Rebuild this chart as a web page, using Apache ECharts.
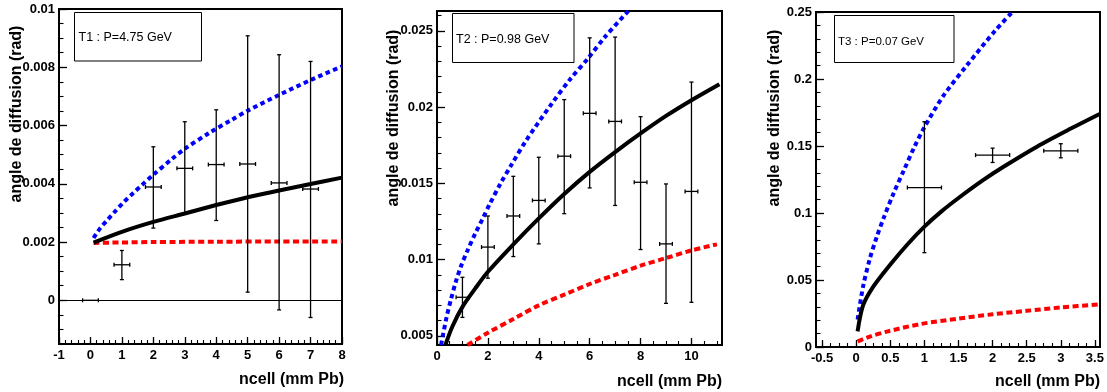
<!DOCTYPE html>
<html><head><meta charset="utf-8">
<script src="https://cdn.jsdelivr.net/npm/echarts@6/dist/echarts.min.js"></script>
<style>html,body{margin:0;padding:0;background:#fff}#c{width:1107px;height:392px}</style>
</head><body><div id="c"></div>
<script>
// ---------------- DATA ----------------
const yTitle = 'angle de diffusion (rad)';
const xTitle = 'ncell (mm Pb)';
const panelLabels = ['T1 : P=4.75 GeV', 'T2 : P=0.98 GeV', 'T3 : P=0.07 GeV'];

// Panel T1 measurements
const t1X = [0, 1, 2, 3, 4, 5, 6, 7];
const t1XErr = [0.25, 0.25, 0.25, 0.25, 0.25, 0.25, 0.25, 0.25];
const t1Y = [0, 0.00122, 0.00389, 0.00453, 0.00466, 0.00468, 0.00403, 0.00382];
const t1YLow = [0, 0.00071, 0.00248, 0.00298, 0.00274, 0.00028, -0.00033, -0.00059];
const t1YHigh = [0, 0.00171, 0.00527, 0.00613, 0.00654, 0.00908, 0.00843, 0.0082];
// Panel T1 curves
const t1BlackX = [0.1, 1, 2, 3, 4, 5, 6, 7, 8];
const t1BlackY = [0.00198, 0.00235, 0.00269, 0.00298, 0.00327, 0.00354, 0.00377, 0.00399, 0.00421];
const t1BlueX = [0.1, 0.3, 0.55, 0.8, 1.05, 1.35, 1.65, 2, 2.6, 3, 3.8, 4.5, 5, 6, 7, 8];
const t1BlueY = [0.00214, 0.00246, 0.00277, 0.00307, 0.00336, 0.00367, 0.00397, 0.00431, 0.00486, 0.0052, 0.00576, 0.0062, 0.00651, 0.00705, 0.00756, 0.00803];
const t1RedX = [0.1, 2, 4, 6, 8];
const t1RedY = [0.00197, 0.002, 0.00201, 0.00202, 0.00202];

// Panel T2 measurements
const t2X = [1, 2, 3, 4, 5, 6, 7, 8, 9, 10];
const t2XErr = [0.25, 0.25, 0.25, 0.25, 0.25, 0.25, 0.25, 0.25, 0.25, 0.25];
const t2Y = [0.00753, 0.01082, 0.01286, 0.01388, 0.01678, 0.01959, 0.01906, 0.01507, 0.01103, 0.01447];
const t2YLow = [0.00621, 0.00878, 0.0102, 0.01103, 0.01301, 0.0147, 0.01355, 0.01066, 0.00713, 0.0072];
const t2YHigh = [0.00884, 0.01286, 0.01546, 0.01671, 0.02049, 0.02454, 0.02459, 0.01937, 0.01496, 0.02164];
// Panel T2 curves
const t2BlackX = [0.33, 0.6, 1, 1.5, 2, 3, 4, 5, 6, 7, 8, 9, 10, 11.1];
const t2BlackY = [0.0044, 0.0056, 0.0069, 0.0081, 0.0092, 0.011, 0.0127, 0.0143, 0.01575, 0.01705, 0.01827, 0.01942, 0.02045, 0.0215];
const t2BlueX = [0.16, 0.36, 0.55, 0.75, 0.95, 1.2, 1.5, 1.8, 2.06, 2.5, 2.92, 3.5, 4.5, 5.22, 5.94, 6.6, 7.52];
const t2BlueY = [0.0044, 0.0061, 0.0074, 0.0086, 0.0096, 0.0106, 0.0117, 0.0127, 0.0136, 0.015, 0.0162, 0.0178, 0.0202, 0.0218, 0.0232, 0.0246, 0.0263];
const t2RedX = [1.2, 2, 3, 4, 5, 6, 7, 8, 9, 10, 11];
const t2RedY = [0.0044, 0.0052, 0.0061, 0.007, 0.0077, 0.0084, 0.009, 0.0096, 0.0101, 0.0106, 0.011];

// Panel T3 measurements
const t3X = [1, 2, 3];
const t3XErr = [0.25, 0.25, 0.25];
const t3Y = [0.119, 0.1432, 0.1464];
const t3YLow = [0.0704, 0.1377, 0.1412];
const t3YHigh = [0.1681, 0.1484, 0.1517];
// Panel T3 curves
const t3BlackX = [0.02, 0.1, 0.25, 0.5, 0.75, 1, 1.25, 1.5, 1.86, 2.16, 2.65, 3.14, 3.57];
const t3BlackY = [0.0117, 0.031, 0.045, 0.0615, 0.0765, 0.0898, 0.1012, 0.1112, 0.1245, 0.1345, 0.1495, 0.1628, 0.1739];
const t3BlueX = [0.02, 0.1, 0.2, 0.3, 0.4, 0.55, 0.7, 0.85, 1.0, 1.28, 1.62, 2.04, 2.29];
const t3BlueY = [0.0204, 0.045, 0.066, 0.082, 0.096, 0.115, 0.132, 0.149, 0.164, 0.1876, 0.21, 0.2362, 0.25];
const t3RedX = [0.02, 0.2, 0.45, 0.95, 1.5, 2, 2.5, 3, 3.57];
const t3RedY = [0.0042, 0.0078, 0.0115, 0.0172, 0.0212, 0.0244, 0.027, 0.0295, 0.0318];

// Axis ranges and tick values
const t1XRange = [-1, 8], t1YRange = [-0.0015, 0.01];
const t2XRange = [0, 11.2], t2YRange = [0.0044, 0.0263];
const t3XRange = [-0.59, 3.575], t3YRange = [0, 0.25];
const t1XMajor = [-1, 0, 1, 2, 3, 4, 5, 6, 7, 8];
const t1YMajor = [0, 0.002, 0.004, 0.006, 0.008, 0.01];
const t2XMajor = [0, 2, 4, 6, 8, 10];
const t2YMajor = [0.005, 0.01, 0.015, 0.02, 0.025];
const t3XMajor = [-0.5, 0, 0.5, 1, 1.5, 2, 2.5, 3, 3.5];
const t3YMajor = [0, 0.05, 0.1, 0.15, 0.2, 0.25];
const t1XMinorStep = 0.2, t1YMinorStep = 0.0005;
const t2XMinorStep = 0.5, t2YMinorStep = 0.001;
const t3XMinorStep = 0.125, t3YMinorStep = 0.01;

// ---------------- CHART ----------------
const FONT = '"Liberation Sans", Arial, Helvetica, sans-serif';
const zip = (a, b) => a.map((v, i) => [v, b[i]]);
function minorTicks(range, step) {
  const out = [];
  const s = Math.ceil(range[0] / step - 1e-9);
  const e = Math.floor(range[1] / step + 1e-9);
  for (let k = s; k <= e; k++) out.push(+(k * step).toPrecision(10));
  return out;
}
const fmt = v => String(parseFloat(Number(v).toPrecision(6)));

const grids = [
  { left: 59, top: 9, width: 283, height: 335 },
  { left: 437, top: 11, width: 285, height: 334 },
  { left: 816, top: 12, width: 284, height: 335 }
].map(g => Object.assign(g, { show: true, borderColor: '#000', borderWidth: 2, backgroundColor: 'transparent' }));

function axisPair(dim, gi, range, major, minorStep) {
  const isX = dim === 'x';
  const main = {
    type: 'value', gridIndex: gi, min: range[0], max: range[1],
    position: isX ? 'bottom' : 'left',
    axisLine: { show: true, onZero: false, lineStyle: { color: '#000', width: 2 } },
    axisTick: { show: true, inside: true, length: isX ? 7 : 8, customValues: major, lineStyle: { color: '#000', width: 1.3 } },
    axisLabel: { show: true, customValues: major, margin: isX ? 5 : 4, color: '#000', fontFamily: FONT, fontWeight: 'bold', fontSize: 13, formatter: fmt, hideOverlap: false },
    splitLine: { show: false }
  };
  const minor = {
    type: 'value', gridIndex: gi, min: range[0], max: range[1],
    position: isX ? 'bottom' : 'left', offset: 0,
    axisLine: { show: false, onZero: false },
    axisTick: { show: true, inside: true, length: isX ? 4 : 4.5, customValues: minorTicks(range, minorStep), lineStyle: { color: '#000', width: 1.1 } },
    axisLabel: { show: false },
    splitLine: { show: false }
  };
  return [main, minor];
}

const xAxes = [
  ...axisPair('x', 0, t1XRange, t1XMajor, t1XMinorStep),
  ...axisPair('x', 1, t2XRange, t2XMajor, t2XMinorStep),
  ...axisPair('x', 2, t3XRange, t3XMajor, t3XMinorStep)
];
const yAxes = [
  ...axisPair('y', 0, t1YRange, t1YMajor, t1YMinorStep),
  ...axisPair('y', 1, t2YRange, t2YMajor, t2YMinorStep),
  ...axisPair('y', 2, t3YRange, t3YMajor, t3YMinorStep)
];

function renderErr(params, api) {
  const x = api.value(0), y = api.value(1);
  const pL = api.coord([api.value(2), y]), pR = api.coord([api.value(3), y]);
  const pB = api.coord([x, api.value(4)]), pT = api.coord([x, api.value(5)]);
  const s = { stroke: '#000', lineWidth: 1.3 };
  const c = 2;
  const ln = (x1, y1, x2, y2) => ({ type: 'line', shape: { x1, y1, x2, y2 }, style: s });
  const kids = [
    ln(pL[0], pL[1], pR[0], pR[1]),
    ln(pL[0], pL[1] - c, pL[0], pL[1] + c),
    ln(pR[0], pR[1] - c, pR[0], pR[1] + c)
  ];
  if (Math.abs(pT[1] - pB[1]) > 0.5) {
    kids.push(ln(pB[0], pB[1], pT[0], pT[1]));
    kids.push(ln(pT[0] - c, pT[1], pT[0] + c, pT[1]));
    kids.push(ln(pB[0] - c, pB[1], pB[0] + c, pB[1]));
  }
  return { type: 'group', children: kids };
}

function errSeries(p, xs, xe, ys, lo, hi) {
  return {
    type: 'custom', xAxisIndex: 2 * p, yAxisIndex: 2 * p, silent: true, z: 6,
    data: xs.map((x, i) => [x, ys[i], x - xe[i], x + xe[i], lo[i], hi[i]]),
    encode: { x: 0, y: 1 }, renderItem: renderErr
  };
}
function curve(p, xs, ys, color, dashed, extra) {
  return Object.assign({
    type: 'line', xAxisIndex: 2 * p, yAxisIndex: 2 * p, data: zip(xs, ys),
    showSymbol: false, symbol: 'none', smooth: 0.3, silent: true, z: dashed ? 3 : 4,
    lineStyle: { color: color, width: 4, type: dashed ? (color === '#0000ff' ? [4.5, 3.5] : [6, 3.5]) : 'solid', cap: 'butt' }
  }, extra || {});
}

const series = [
  curve(0, t1RedX, t1RedY, '#ff0000', true),
  curve(0, t1BlueX, t1BlueY, '#0000ff', true),
  curve(0, t1BlackX, t1BlackY, '#000000', false, {
    markLine: { silent: true, symbol: 'none', label: { show: false }, lineStyle: { color: '#000', width: 1, type: 'solid' }, data: [{ yAxis: 0 }] }
  }),
  errSeries(0, t1X, t1XErr, t1Y, t1YLow, t1YHigh),
  curve(1, t2RedX, t2RedY, '#ff0000', true),
  curve(1, t2BlueX, t2BlueY, '#0000ff', true),
  curve(1, t2BlackX, t2BlackY, '#000000', false),
  errSeries(1, t2X, t2XErr, t2Y, t2YLow, t2YHigh),
  curve(2, t3RedX, t3RedY, '#ff0000', true),
  curve(2, t3BlueX, t3BlueY, '#0000ff', true),
  curve(2, t3BlackX, t3BlackY, '#000000', false),
  errSeries(2, t3X, t3XErr, t3Y, t3YLow, t3YHigh)
];

// label boxes & titles
const boxes = [
  { x: 74.5, y: 12.5, w: 127, h: 48.5, tx: 78.5, ty: 38, fs: 12.5 },
  { x: 452.5, y: 13.5, w: 121.5, h: 49, tx: 456, ty: 40, fs: 12.5 },
  { x: 834.5, y: 15.5, w: 119.5, h: 47, tx: 838, ty: 41.5, fs: 11.5 }
];
const yTitlePos = [[17, 114], [394, 118], [775, 118]];
const xTitlePos = [[344, 380], [722, 382], [1100, 382]];
const graphic = [];
boxes.forEach((b, i) => {
  graphic.push({ type: 'rect', z: 100, shape: { x: b.x, y: b.y, width: b.w, height: b.h }, style: { fill: '#fff', stroke: '#000', lineWidth: 1 } });
  graphic.push({ type: 'text', z: 101, x: b.tx, y: b.ty, style: { text: panelLabels[i], font: b.fs + 'px ' + FONT, fill: '#000', textAlign: 'left', textVerticalAlign: 'middle', align: 'left', verticalAlign: 'middle' } });
});
yTitlePos.forEach(p => {
  graphic.push({ type: 'text', z: 101, x: p[0], y: p[1], rotation: Math.PI / 2, style: { text: yTitle, font: 'bold 16px ' + FONT, fill: '#000', textAlign: 'center', textVerticalAlign: 'middle', align: 'center', verticalAlign: 'middle' } });
});
xTitlePos.forEach(p => {
  graphic.push({ type: 'text', z: 101, x: p[0], y: p[1], style: { text: xTitle, font: 'bold 16px ' + FONT, fill: '#000', textAlign: 'right', textVerticalAlign: 'middle', align: 'right', verticalAlign: 'middle' } });
});

const chart = echarts.init(document.getElementById('c'), null, { renderer: 'canvas' });
chart.setOption({
  animation: false,
  backgroundColor: '#fff',
  textStyle: { fontFamily: FONT },
  grid: grids,
  xAxis: xAxes,
  yAxis: yAxes,
  series: series,
  graphic: graphic
});
</script>
</body></html>
